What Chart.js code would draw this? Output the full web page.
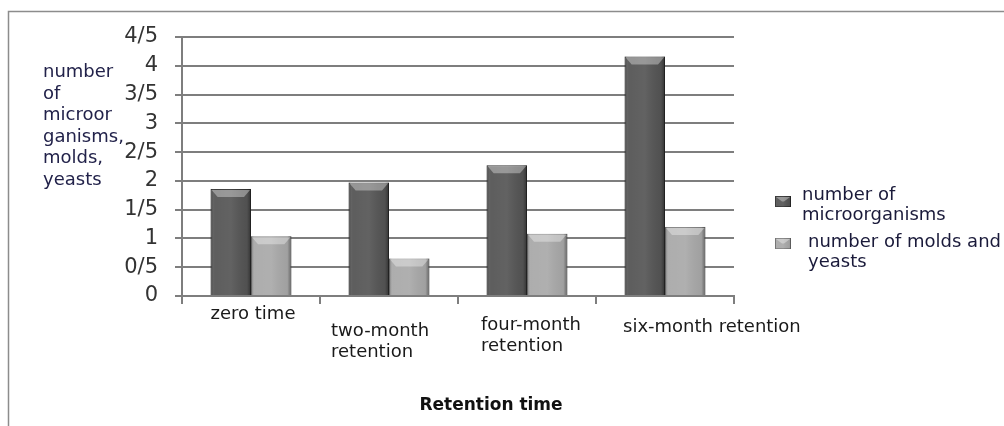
<!DOCTYPE html>
<html>
<head>
<meta charset="utf-8">
<script src="https://cdn.jsdelivr.net/npm/chart.js@4.4.1/dist/chart.umd.min.js"></script>
<style>
  html, body { margin: 0; padding: 0; background: #fff; }
  #wrap { width: 1004px; height: 426px; position: relative; }
</style>
</head>
<body>
<div id="wrap"><canvas id="chart"></canvas></div>
<script>
const categories = [["zero time"], ["two-month", "retention"], ["four-month", "retention"], ["six-month retention"]];
const microorganisms = [1.86, 1.97, 2.27, 4.16];
const moldsYeasts = [1.04, 0.65, 1.08, 1.2];
const yTickLabels = ["0", "0/5", "1", "1/5", "2", "2/5", "3", "3/5", "4", "4/5"];
const yTitleLines = ["number", "of", "microor", "ganisms,", "molds,", "yeasts"];
const seriesNames = [["number of", "microorganisms"], ["number of molds and", "yeasts"]];
const xTitle = "Retention time";

const FONT = "'DejaVu Sans', sans-serif";
const GRID = "#7e7e7e";

// where each category label sits relative to its category centre
const labelPlacement = [
  { dx: 2, y: 319, align: "center" },
  { dx: -58, y: 336, align: "left" },
  { dx: -46, y: 330, align: "left" },
  { dx: -42, y: 332, align: "left" }
];

function bevel(ctx, left, top, w, h) {
  const g = ctx.createLinearGradient(left, 0, left + w, 0);
  g.addColorStop(0, "rgba(0,0,0,0.35)");
  g.addColorStop(0.1, "rgba(255,255,255,0.05)");
  g.addColorStop(0.5, "rgba(255,255,255,0.08)");
  g.addColorStop(0.9, "rgba(0,0,0,0.05)");
  g.addColorStop(1, "rgba(0,0,0,0.4)");
  ctx.fillStyle = g;
  ctx.fillRect(left, top, w, h);
  const b = Math.min(8, h / 2);
  ctx.fillStyle = "rgba(255,255,255,0.35)";
  ctx.beginPath();
  ctx.moveTo(left + 1, top + 1);
  ctx.lineTo(left + w - 1, top + 1);
  ctx.lineTo(left + w - 7, top + b);
  ctx.lineTo(left + 7, top + b);
  ctx.closePath();
  ctx.fill();
}

const decorPlugin = {
  id: "decor",
  beforeDraw(chart) {
    const ctx = chart.ctx;
    ctx.save();
    ctx.strokeStyle = "#8c8c8c";
    ctx.lineWidth = 1.5;
    ctx.beginPath();
    ctx.moveTo(8.5, 426);
    ctx.lineTo(8.5, 11.5);
    ctx.lineTo(1004, 11.5);
    ctx.stroke();
    ctx.restore();
  },
  afterDatasetsDraw(chart) {
    const ctx = chart.ctx;
    ctx.save();
    chart.data.datasets.forEach((ds, i) => {
      chart.getDatasetMeta(i).data.forEach((el) => {
        const left = el.x - el.width / 2;
        bevel(ctx, left, el.y, el.width, el.base - el.y);
      });
    });
    ctx.restore();
  },
  afterDraw(chart) {
    const ctx = chart.ctx;
    const xs = chart.scales.x;
    ctx.save();

    // category labels
    ctx.font = "18px " + FONT;
    ctx.fillStyle = "#1a1a1a";
    ctx.textBaseline = "alphabetic";
    categories.forEach((lines, i) => {
      const p = labelPlacement[i];
      const cx = xs.getPixelForValue(i) + p.dx;
      ctx.textAlign = p.align;
      lines.forEach((line, j) => ctx.fillText(line, cx, p.y + j * 21));
    });

    // x title
    ctx.font = "bold 17px " + FONT;
    ctx.textAlign = "center";
    ctx.fillStyle = "#111";
    ctx.fillText(xTitle, 491, 410);

    // y title, horizontal block at the left
    ctx.font = "18px " + FONT;
    ctx.textAlign = "left";
    ctx.fillStyle = "#22224a";
    yTitleLines.forEach((line, j) => ctx.fillText(line, 43, 77 + j * 21.6));

    // legend
    const markerY = [196, 238];
    const textY = [200, 247];
    const textX = [802, 808];
    chart.data.datasets.forEach((ds, i) => {
      ctx.fillStyle = ds.backgroundColor;
      ctx.fillRect(775, markerY[i], 16, 11);
      ctx.strokeStyle = ds.borderColor;
      ctx.lineWidth = 1;
      ctx.strokeRect(775.5, markerY[i] + 0.5, 15, 10);
      bevel(ctx, 775, markerY[i], 16, 11);
      ctx.fillStyle = "#1a1a3a";
      ctx.font = "18px " + FONT;
      seriesNames[i].forEach((line, j) => ctx.fillText(line, textX[i], textY[i] + j * 20));
    });
    ctx.restore();
  }
};

new Chart(document.getElementById("chart"), {
  type: "bar",
  data: {
    labels: categories,
    datasets: [
      {
        label: seriesNames[0].join(" "),
        data: microorganisms,
        backgroundColor: "#555555",
        borderColor: "#333333",
        borderWidth: 1,
        categoryPercentage: 0.585,
        barPercentage: 1
      },
      {
        label: seriesNames[1].join(" "),
        data: moldsYeasts,
        backgroundColor: "#a9a9a9",
        borderColor: "#828282",
        borderWidth: 1,
        categoryPercentage: 0.585,
        barPercentage: 1
      }
    ]
  },
  options: {
    responsive: true,
    maintainAspectRatio: false,
    animation: false,
    layout: {
      padding: { left: 0, top: 37, right: 270, bottom: 110 }
    },
    plugins: {
      legend: { display: false },
      tooltip: { enabled: false }
    },
    scales: {
      x: {
        offset: true,
        grid: {
          offset: true,
          drawOnChartArea: false,
          color: GRID,
          lineWidth: 2,
          tickLength: 8
        },
        border: { display: true, color: GRID, width: 2 },
        ticks: { display: false },
        afterFit(scale) { scale.height = 20; }
      },
      y: {
        min: 0,
        max: 4.5,
        grid: {
          color: GRID,
          lineWidth: 2,
          tickLength: 7
        },
        border: { display: true, color: GRID, width: 2 },
        ticks: {
          stepSize: 0.5,
          autoSkip: false,
          padding: 17,
          color: "#333333",
          font: { family: FONT, size: 21 },
          callback: (value, index) => yTickLabels[index]
        },
        afterFit(scale) { scale.width = 182; }
      }
    }
  },
  plugins: [decorPlugin]
});
</script>
</body>
</html>
